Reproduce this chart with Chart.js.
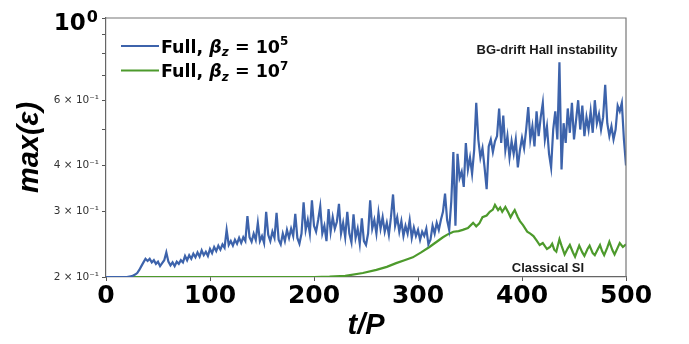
<!DOCTYPE html>
<html><head><meta charset="utf-8">
<script src="https://cdn.jsdelivr.net/npm/chart.js@4.4.1/dist/chart.umd.min.js"></script>
<style>html,body{margin:0;padding:0;background:#fff;}</style>
</head><body>
<canvas id="c" width="689" height="344"></canvas>
<script>
// ---- data ----
const seriesNames = ['Full, β_z = 10^5', 'Full, β_z = 10^7'];
const legendExponents = ['5', '7'];

const tBlue = [0,10,20,25,28,
 30,32,34,36,38,40,42,44,46,48,
 50,52,54,56,58,60,62,64,66,68,
 70,72,74,76,78,80,82,84,86,88,
 90,92,94,96,98,100,102,104,106,108,
 110,112,114,116,118,120,122,124,126,128,
 130,132,134,136,138,140,142,144,146,148,
 150,152,154,156,158,160,162,164,166,168,
 170,172,174,176,178,180,182,184,186,188,
 190,192,194,196,198,200,202,204,206,208,
 210,212,214,216,218,220,222,224,226,228,
 230,232,234,236,238,240,242,244,246,248,
 250,252,254,256,258,260,262,264,266,268,
 270,272,274,276,278,280,282,284,286,288,
 290,292,294,296,298,300,302,304,306,308,
 310,312,314,316,318,320,322,324,326,328,
 330,332,334,336,338,340,342,344,346,348,
 350,352,354,356,358,360,362,364,366,368,
 370,372,374,376,378,380,382,384,386,388,
 390,392,394,396,398,400,402,404,406,408,
 410,412,414,416,418,420,422,424,426,428,
 430,432,434,436,438,440,442,444,446,448,
 450,452,454,456,458,460,462,464,466,468,
 470,472,474,476,478,480,482,484,486,488,
 490,492,494,496,498,500];
const epsBlue = [0.200,0.200,0.200,0.201,0.203,
 0.205,0.209,0.214,0.219,0.224,0.221,0.224,0.219,0.222,0.217,
 0.220,0.214,0.218,0.222,0.233,0.220,0.215,0.219,0.214,0.220,
 0.217,0.222,0.219,0.228,0.222,0.229,0.224,0.231,0.226,0.233,
 0.227,0.236,0.229,0.234,0.228,0.238,0.232,0.241,0.235,0.243,
 0.237,0.245,0.240,0.268,0.244,0.250,0.243,0.252,0.246,0.255,
 0.247,0.256,0.250,0.292,0.256,0.249,0.262,0.252,0.280,0.250,
 0.258,0.247,0.300,0.260,0.250,0.265,0.255,0.298,0.252,0.245,
 0.262,0.250,0.268,0.255,0.270,0.258,0.296,0.255,0.246,0.262,
 0.318,0.268,0.285,0.262,0.322,0.275,0.265,0.285,0.310,0.262,
 0.275,0.250,0.305,0.265,0.290,0.270,0.282,0.315,0.262,0.280,
 0.256,0.300,0.262,0.248,0.295,0.255,0.270,0.246,0.288,0.250,
 0.244,0.262,0.322,0.270,0.285,0.262,0.298,0.270,0.290,0.265,
 0.280,0.260,0.290,0.334,0.275,0.290,0.265,0.283,0.258,0.275,
 0.262,0.285,0.255,0.272,0.258,0.268,0.252,0.265,0.258,0.270,
 0.245,0.252,0.275,0.262,0.280,0.268,0.285,0.300,0.336,0.285,
 0.268,0.320,0.435,0.275,0.430,0.370,0.385,0.350,0.460,0.390,
 0.420,0.380,0.440,0.590,0.470,0.420,0.445,0.395,0.345,0.450,
 0.470,0.435,0.465,0.480,0.570,0.460,0.545,0.440,0.480,0.420,
 0.465,0.430,0.470,0.395,0.440,0.475,0.445,0.500,0.575,0.470,
 0.510,0.450,0.560,0.480,0.540,0.590,0.470,0.510,0.430,0.395,
 0.500,0.560,0.470,0.760,0.390,0.520,0.460,0.570,0.490,0.590,
 0.470,0.530,0.600,0.500,0.580,0.480,0.540,0.500,0.560,0.490,
 0.600,0.520,0.550,0.500,0.540,0.660,0.520,0.480,0.510,0.470,
 0.500,0.580,0.560,0.590,0.470,0.400];

const tGreen = [0,100,200,215,230,247,260,270,279,287,
 295,303,311,318,324,329,334,339,343,348,
 353,356,359,362,366,369,372,374,377,379,
 381,384,387,389,391,393,396,398,401,405,
 408,411,414,417,420,424,427,429,431,433,
 436,438,441,444,446,449,451,453,455,458,
 460,463,465,468,470,473,475,477,479,482,
 484,487,489,492,494,497,500];
const epsGreen = [0.200,0.200,0.200,0.2005,0.2015,0.205,0.209,0.213,0.218,0.222,
 0.226,0.233,0.241,0.249,0.256,0.261,0.265,0.266,0.268,0.271,
 0.280,0.274,0.279,0.290,0.293,0.300,0.304,0.313,0.303,0.308,
 0.300,0.309,0.298,0.290,0.297,0.303,0.290,0.283,0.276,0.265,
 0.262,0.258,0.251,0.244,0.247,0.238,0.241,0.246,0.237,0.234,
 0.253,0.243,0.230,0.239,0.244,0.233,0.227,0.235,0.243,0.233,
 0.228,0.238,0.243,0.232,0.229,0.238,0.244,0.235,0.229,0.240,
 0.249,0.236,0.230,0.240,0.247,0.241,0.245];

const xTicks = [0,100,200,300,400,500];
const yTickValues = [0.2,0.3,0.4,0.5,0.6,0.7,0.8,0.9,1.0];
const yTickLabels = ['2 × 10⁻¹','3 × 10⁻¹','4 × 10⁻¹','','6 × 10⁻¹','','','',''];
const yTopLabel = ['10', '0'];   // 10^0 at the top of the axis
const annotations = [
  {text:'BG-drift Hall instability', t:424, eps:0.82},
  {text:'Classical SI', t:425, eps:0.2114}
];

// ---- styles ----
const colors = ['#3d63ab', '#4d9a2c'];
const SANS = 'Liberation Sans';
const DV = 'DejaVu Sans';

const framePlugin = {
  id:'frame',
  afterDatasetsDraw(chart){
    const {ctx, chartArea:a} = chart;
    ctx.save();
    ctx.strokeStyle = '#777'; ctx.lineWidth = 1.2;
    ctx.beginPath();
    ctx.moveTo(a.left, a.top); ctx.lineTo(a.right, a.top); ctx.lineTo(a.right, a.bottom);
    ctx.stroke();
    ctx.restore();
  }
};

const topLabelPlugin = {
  id:'topLabel',
  afterDraw(chart){
    const ctx = chart.ctx, ys = chart.scales.y, a = chart.chartArea;
    const y = ys.getPixelForValue(1);
    ctx.save();
    ctx.fillStyle = '#000';
    ctx.textBaseline = 'alphabetic';
    ctx.font = 'bold 16px "' + DV + '"';
    const wSup = ctx.measureText(yTopLabel[1]).width;
    ctx.font = 'bold 23px "' + DV + '"';
    const wMain = ctx.measureText(yTopLabel[0]).width;
    const right = a.left - 8;
    ctx.fillText(yTopLabel[0], right - wSup - wMain - 1, y + 12);
    ctx.font = 'bold 16px "' + DV + '"';
    ctx.fillText(yTopLabel[1], right - wSup, y + 4);
    ctx.restore();
  }
};

const legendPlugin = {
  id:'mathLegend',
  afterDraw(chart){
    const ctx = chart.ctx;
    const a = chart.chartArea;
    ctx.save();
    chart.data.datasets.forEach((ds, i) => {
      const y = a.top + 28 + i * 24.5;
      const x0 = a.left + 15;
      ctx.strokeStyle = ds.borderColor; ctx.lineWidth = 2;
      ctx.beginPath(); ctx.moveTo(x0, y); ctx.lineTo(x0 + 38, y); ctx.stroke();
      ctx.fillStyle = '#000';
      ctx.textBaseline = 'alphabetic';
      let x = x0 + 40;
      const base = y + 6.5;
      const parts = [
        {s:'Full, ', f:'bold 17.5px "' + DV + '"', dy:0},
        {s:'β', f:'italic bold 17.5px "' + DV + '"', dy:0},
        {s:'z', f:'italic bold 12px "' + DV + '"', dy:3.5},
        {s:' = 10', f:'bold 17.5px "' + DV + '"', dy:0},
        {s:legendExponents[i], f:'bold 12px "' + DV + '"', dy:-7.5}
      ];
      parts.forEach(p => {
        ctx.font = p.f;
        ctx.fillText(p.s, x, base + p.dy);
        x += ctx.measureText(p.s).width;
      });
    });
    ctx.restore();
  }
};

const annotationPlugin = {
  id:'notes',
  afterDraw(chart){
    const ctx = chart.ctx;
    const xs = chart.scales.x, ys = chart.scales.y;
    ctx.save();
    ctx.fillStyle = '#1a1a1a';
    ctx.font = 'bold 13px "' + SANS + '"';
    ctx.textAlign = 'center'; ctx.textBaseline = 'middle';
    annotations.forEach(n => {
      ctx.fillText(n.text, xs.getPixelForValue(n.t), ys.getPixelForValue(n.eps));
    });
    ctx.restore();
  }
};

new Chart(document.getElementById('c'), {
  type:'line',
  data:{
    datasets:[
      {label:seriesNames[0], data:tBlue.map((t,i)=>({x:t, y:epsBlue[i]})), borderColor:colors[0], backgroundColor:colors[0], borderWidth:2.2, pointRadius:0, tension:0},
      {label:seriesNames[1], data:tGreen.map((t,i)=>({x:t, y:epsGreen[i]})), borderColor:colors[1], backgroundColor:colors[1], borderWidth:2.2, pointRadius:0, tension:0}
    ]
  },
  options:{
    responsive:false, animation:false, devicePixelRatio:1,
    layout:{padding:{left:0, right:63, top:18, bottom:0}},
    plugins:{legend:{display:false}, tooltip:{enabled:false}},
    scales:{
      x:{
        type:'linear', min:0, max:500,
        afterBuildTicks: s => { s.ticks = xTicks.map(v => ({value:v})); },
        ticks:{font:{family:DV, weight:'bold', size:25}, color:'#000', padding:0, maxRotation:0, autoSkip:false},
        grid:{drawOnChartArea:false, drawTicks:true, tickLength:4, color:'#555'},
        border:{color:'#666', width:1.2},
        title:{display:true, text:'t/P', font:{family:SANS, weight:'bold', style:'italic', size:29}, color:'#000', padding:{top:0, bottom:1}},
        afterFit: s => { s.height = 67; }
      },
      y:{
        type:'logarithmic', min:0.2, max:1,
        afterBuildTicks: s => { s.ticks = yTickValues.map(v => ({value:v})); },
        ticks:{
          autoSkip:false, padding:3,
          callback:(v) => { const k = yTickValues.findIndex(t => Math.abs(t - v) < 1e-9); return k >= 0 ? yTickLabels[k] : ''; },
          font:{family:DV, size:10.5},
          color:'#333'
        },
        grid:{drawOnChartArea:false, drawTicks:true, tickLength:4, color:'#555'},
        border:{color:'#666', width:1.2},
        title:{display:true, text:'max(ε)', font:{family:SANS, weight:'bold', style:'italic', size:29}, color:'#000', padding:{top:13, bottom:0}},
        afterFit: s => { s.width = 106; }
      }
    }
  },
  plugins:[framePlugin, topLabelPlugin, legendPlugin, annotationPlugin]
});
</script>
</body></html>
